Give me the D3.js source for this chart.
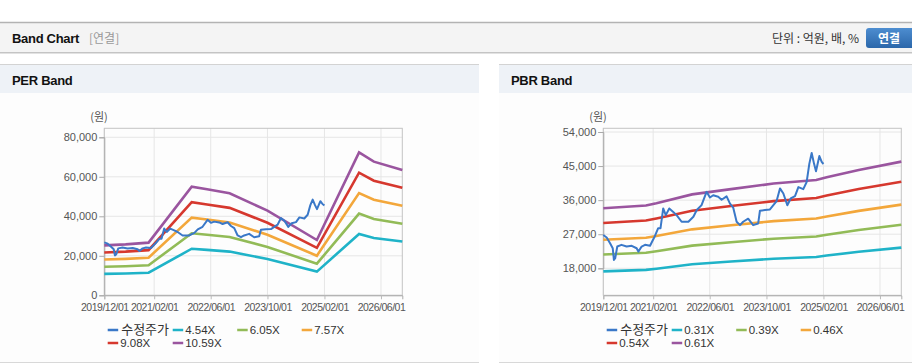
<!DOCTYPE html>
<html><head><meta charset="utf-8">
<script src="https://cdn.jsdelivr.net/npm/d3@7/dist/d3.min.js"></script>
<style>
body{margin:0;background:#fff;}
svg{display:block;font-family:"Liberation Sans",Arial,"Noto Sans CJK KR",sans-serif;}
</style></head>
<body><svg id="c" width="912" height="364"></svg>
<script>
// ---------- data ----------
const xTickLabels = ["2019/12/01","2021/02/01","2022/06/01","2023/10/01","2025/02/01","2026/06/01"];
const xDomain = ["2019/12/01","2026/12/01"];
const perYTicks = [0,20000,40000,60000,80000];
const pbrYTicks = [18000,27000,36000,45000,54000];

const priceDates = ["2019-12-01","2019-12-30","2020-01-28","2020-02-20","2020-03-01","2020-03-12","2020-03-30","2020-05-05","2020-06-18","2020-08-01","2020-09-12","2020-09-27","2020-10-25","2020-11-23","2021-01-05","2021-02-17","2021-03-16","2021-04-05","2021-04-28","2021-05-20","2021-06-19","2021-07-23","2021-08-21","2021-10-03","2021-11-30","2022-01-12","2022-02-10","2022-03-23","2022-05-05","2022-06-03","2022-07-01","2022-08-13","2022-09-11","2022-10-24","2022-11-22","2022-12-20","2023-01-18","2023-02-16","2023-03-15","2023-04-27","2023-06-09","2023-07-22","2023-08-06","2023-09-18","2023-10-31","2023-12-27","2024-01-25","2024-02-23","2024-03-28","2024-04-26","2024-06-02","2024-07-01","2024-08-12","2024-09-10","2024-10-03","2024-10-23","2024-11-12","2024-11-29","2024-12-28","2025-01-17","2025-02-01"];
const priceValues = [26800,26150,24600,23300,20200,20650,23750,24200,23750,23950,23300,22400,23750,24200,23950,26600,28600,28600,33800,32050,33800,32900,32050,30300,30300,31600,33400,34700,38200,36700,37300,36900,36100,37000,35100,34000,30300,29400,30300,31100,29400,29850,33200,33400,33550,35750,39100,37750,34650,36450,37050,39450,38900,40800,45650,48450,45650,43650,47650,46100,45550];

const perBandDates = ["2019-12-01","2020-06-01","2020-12-15","2021-12-20","2022-05-01","2022-11-10","2023-10-01","2024-11-28","2025-11-25","2026-04-01","2026-12-01"];
const per454 = [10850,11060,11430,23580,23000,22130,18370,12000,31030,29010,27200];
const per605 = [14450,14740,15230,31420,30650,29490,24480,16000,41350,38650,36250];
const per757 = [18090,18440,19050,39320,38350,36900,30630,20020,51740,48370,45350];
const per908 = [21690,22120,22850,47160,46000,44270,36740,24010,62060,58010,54400];
const per1059 = [25300,25800,26660,55000,53650,51630,42850,28000,72380,67660,63450];

const pbrBandDates = ["2019-12-01","2020-12-01","2021-03-01","2022-01-01","2022-12-01","2023-12-01","2024-12-01","2025-03-01","2025-12-01","2026-12-01"];
const pbr031 = [17200,17580,17890,19070,19780,20520,20990,21360,22350,23470];
const pbr039 = [21650,22110,22500,23990,24880,25820,26400,26870,28120,29520];
const pbr046 = [25530,26080,26540,28290,29350,30450,31140,31690,33170,34820];
const pbr054 = [29970,30620,31160,33210,34450,35750,36560,37210,38930,40880];
const pbr061 = [33860,34590,35200,37520,38920,40380,41300,42030,43980,46180];

const perLegend = ["수정주가","4.54X","6.05X","7.57X","9.08X","10.59X"];
const pbrLegend = ["수정주가","0.31X","0.39X","0.46X","0.54X","0.61X"];
const seriesColors = ["#3a78c8","#1fb3c8","#92bb57","#f3a73b","#d6382e","#9a559f"];

// ---------- page frame ----------
const svg = d3.select("#c");
const korean = '"Noto Sans CJK KR","Liberation Sans",sans-serif';

svg.append("rect").attr("x",0).attr("y",22).attr("width",912).attr("height",31).attr("fill","#f4f4f4");
svg.append("line").attr("x1",0).attr("x2",912).attr("y1",22.5).attr("y2",22.5).attr("stroke","#b3b3b3").attr("stroke-width",1.5);
svg.append("line").attr("x1",0).attr("x2",912).attr("y1",52.5).attr("y2",52.5).attr("stroke","#c4c4c4");
svg.append("line").attr("x1",0).attr("x2",912).attr("y1",53.5).attr("y2",53.5).attr("stroke","#e2e2e2");
svg.append("text").attr("x",12).attr("y",43).attr("font-size",13).attr("font-weight","bold").attr("fill","#111").style("letter-spacing","-0.3px").text("Band Chart");
svg.append("text").attr("x",89).attr("y",43).attr("font-size",12).attr("fill","#999").style("font-family",korean).text("[연결]");
svg.append("text").attr("x",859).attr("y",43).attr("text-anchor","end").attr("font-size",12).attr("fill","#333").style("font-family",korean).text("단위 : 억원, 배, %");
const grad = svg.append("defs").append("linearGradient").attr("id","btn").attr("x1",0).attr("x2",0).attr("y1",0).attr("y2",1);
grad.append("stop").attr("offset","0%").attr("stop-color","#4d8dd0");
grad.append("stop").attr("offset","100%").attr("stop-color","#2b67aa");
svg.append("rect").attr("x",866).attr("y",28).attr("width",52).attr("height",20).attr("rx",3).attr("fill","url(#btn)");
svg.append("text").attr("x",889).attr("y",42.5).attr("text-anchor","middle").attr("font-size",12).attr("font-weight","bold").attr("fill","#fff").style("font-family",korean).text("연결");

// ---------- chart drawer ----------
const parse = d3.timeParse("%Y-%m-%d");
const parseSlash = d3.timeParse("%Y/%m/%d");

function drawPanel(ox, pw, title, yTicks, yFromTo, bandDates, bands, legendLabels) {
  const g = svg.append("g").attr("transform",`translate(${ox},0)`);
  g.append("rect").attr("x",0).attr("y",64).attr("width",pw).attr("height",298).attr("fill","#fdfdfd");
  g.append("rect").attr("x",0).attr("y",64).attr("width",pw).attr("height",29).attr("fill","#eef2f7");
  g.append("line").attr("x1",0).attr("x2",pw).attr("y1",64.5).attr("y2",64.5).attr("stroke","#d3d3d3");
  g.append("line").attr("x1",0).attr("x2",pw).attr("y1",362.5).attr("y2",362.5).attr("stroke","#d8d8d8");
  g.append("text").attr("x",12).attr("y",85).attr("font-size",13).attr("font-weight","bold").attr("fill","#111").style("letter-spacing","-0.3px").text(title);

  const left = 104.3, right = 402.3, top = 128.3, bottom = 295.3;
  const x = d3.scaleTime().domain(xDomain.map(parseSlash)).range([left,right]);
  const y = d3.scaleLinear().domain(yFromTo.domain).range(yFromTo.range);

  // grid
  const xt = xTickLabels.map(parseSlash);
  g.selectAll(".vg").data(xt).enter().append("line")
    .attr("x1",d=>x(d)).attr("x2",d=>x(d)).attr("y1",top).attr("y2",bottom)
    .attr("stroke","#e6e6e6");
  g.selectAll(".hg").data(yTicks).enter().append("line")
    .attr("x1",left).attr("x2",right).attr("y1",d=>y(d)).attr("y2",d=>y(d))
    .attr("stroke","#e6e6e6");
  g.append("rect").attr("x",left).attr("y",top).attr("width",right-left).attr("height",bottom-top)
    .attr("fill","none").attr("stroke","#c4c4c4");

  // axes
  const yAxis = d3.axisLeft(y).tickValues(yTicks).tickSize(5).tickPadding(2).tickFormat(d3.format(","));
  const ya = g.append("g").attr("transform",`translate(${left},0)`).call(yAxis);
  ya.select(".domain").attr("stroke","#aaa");
  ya.selectAll(".tick line").attr("stroke","#aaa");
  ya.selectAll("text").attr("fill","#555").attr("font-size",11).style("font-family","'Liberation Sans',Arial,sans-serif");

  const xAxis = d3.axisBottom(x).tickValues(xt).tickSize(4).tickPadding(4).tickFormat(d3.timeFormat("%Y/%m/%d"));
  const xa = g.append("g").attr("transform",`translate(0,${bottom})`).call(xAxis);
  xa.select(".domain").attr("stroke","#aaa");
  xa.selectAll(".tick line").attr("stroke","#bbb");
  xa.selectAll("text").attr("fill","#555").attr("font-size",10.5).style("letter-spacing","-0.5px").style("font-family","'Liberation Sans',Arial,sans-serif");

  g.append("text").attr("x",99).attr("y",121).attr("text-anchor","middle").attr("font-size",11).attr("fill","#555").style("font-family",korean).text("(원)");

  // lines
  const bd = bandDates.map(parse);
  const line = d3.line().x(d=>x(d[0])).y(d=>y(d[1]));
  bands.forEach((vals,i)=>{
    g.append("path").datum(vals.map((v,j)=>[bd[j],v]))
      .attr("d",line).attr("fill","none").attr("stroke",seriesColors[i+1]).attr("stroke-width",2.6);
  });
  const pd = priceDates.map(parse);
  g.append("path").datum(priceValues.map((v,j)=>[pd[j],v]))
    .attr("d",line).attr("fill","none").attr("stroke",seriesColors[0]).attr("stroke-width",2).attr("stroke-linejoin","round");

  // legend
  const colX = [107.7,172.7,237.2,301.7];
  legendLabels.forEach((lab,i)=>{
    const cx = colX[i%4], cy = i<4 ? 330 : 343;
    g.append("line").attr("x1",cx).attr("x2",cx+10.5).attr("y1",cy).attr("y2",cy)
      .attr("stroke",seriesColors[i]).attr("stroke-width",2.5);
    g.append("text").attr("x",cx+(i===0?13.5:12.5)).attr("y",cy+4.2).attr("font-size",i===0?13:11.5).attr("fill","#333")
      .style("font-family", i===0 ? korean : "'Liberation Sans',Arial,sans-serif").text(lab);
  });
}

drawPanel(0, 479, "PER Band", perYTicks, {domain:[0,80000], range:[295.3,137.3]}, perBandDates,
  [per454,per605,per757,per908,per1059], perLegend);
drawPanel(499, 413, "PBR Band", pbrYTicks, {domain:[18000,54000], range:[268.3,132]}, pbrBandDates,
  [pbr031,pbr039,pbr046,pbr054,pbr061], pbrLegend);
</script></body></html>
